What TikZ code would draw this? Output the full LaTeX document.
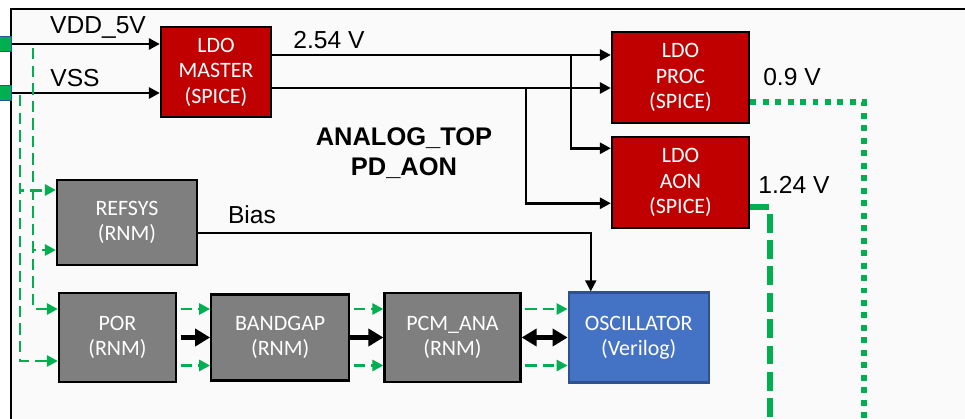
\documentclass[tikz,border=0pt]{standalone}
\usepackage{fontspec}
\setmainfont{Liberation Sans}
\newfontfamily\boxfont{Carlito}
\usepackage{tikz}
\usetikzlibrary{positioning,arrows.meta}
\definecolor{aored}{RGB}{192,0,0}
\definecolor{aogrey}{RGB}{127,127,127}
\definecolor{aoblue}{RGB}{68,114,196}
\definecolor{aoedge}{RGB}{47,82,143}
\definecolor{aogreen}{RGB}{0,176,80}
\definecolor{aopanel}{RGB}{250,250,250}
\tikzset{
  blk/.style={draw=black, line width=1.3pt, align=center, text=white,
              inner sep=0pt, font=\boxfont\fontsize{12.5}{14.5}\selectfont},
  ldo/.style={blk, fill=aored, minimum width=2.74cm, minimum height=1.82cm},
  rnm/.style={blk, fill=aogrey, minimum width=2.76cm, minimum height=1.72cm},
  vlg/.style={blk, fill=aoblue, draw=aoedge, minimum width=2.8cm, minimum height=1.8cm},
  port/.style={draw=aoedge, fill=aogreen, line width=0.8pt, minimum size=0.29cm, inner sep=0pt},
  lbl/.style={font=\fontsize{14}{17}\selectfont, inner sep=0pt},
  ttl/.style={lbl, font=\bfseries\fontsize{14.5}{17}\selectfont, align=center},
  sig/.style={-{Triangle[length=2.2mm, width=2.2mm]}, line width=1.6pt},
  bias/.style={-{Triangle[length=2.2mm, width=2.2mm]}, line width=1.1pt},
  bus/.style={-{Triangle[length=3mm, width=3.4mm]}, line width=2.8pt},
  bibus/.style={{Triangle[length=3mm, width=3.4mm]}-{Triangle[length=3mm, width=3.4mm]}, line width=2.8pt},
  ctl/.style={-{Triangle[length=2.2mm, width=2.2mm]}, line width=1.7pt, color=aogreen,
              dash pattern=on 6.5pt off 3.5pt},
  railproc/.style={line width=2.9pt, color=aogreen, dash pattern=on 3.4pt off 3.7pt},
  railaon/.style={line width=3.4pt, color=aogreen, dash pattern=on 10.7pt off 4.3pt},
}
\begin{document}
\begin{tikzpicture}[x=0.02cm, y=-0.02cm]
\useasboundingbox (0,0) rectangle (965,419);
\draw[line width=1.7pt, fill=aopanel] (11,9) rectangle (990,440);

\node[port] (pinvdd) at (4,44) {};
\node[port] (pinvss) at (4,93) {};

\node[ldo, minimum width=2.2cm, minimum height=1.8cm] (master) at (216,72) {LDO\\MASTER\\(SPICE)};
\node[ldo] (proc) at (680.5,77.5) {LDO\\PROC\\(SPICE)};
\node[ldo, below=0.24cm of proc] (aon) {LDO\\AON\\(SPICE)};

\node[rnm, minimum width=2.8cm, minimum height=1.7cm] (refsys) at (127,222.5) {REFSYS\\(RNM)};
\node[rnm, minimum width=2.34cm, minimum height=1.78cm] (por) at (117.5,337.5) {POR\\(RNM)};
\node[rnm, right=0.66cm of por] (bandgap) {BANDGAP\\(RNM)};
\node[rnm, minimum width=2.72cm, minimum height=1.78cm, right=0.66cm of bandgap] (pcm) {PCM\_ANA\\(RNM)};
\node[vlg, right=0.92cm of pcm] (osc) {OSCILLATOR\\(Verilog)};

\node[ttl] (title) at (404,153) {ANALOG\_TOP\\PD\_AON};
\node[lbl] (lvdd) at (98,27) {VDD\_5V};
\node[lbl] (lvss) at (75,78) {VSS};
\node[lbl] (lmain) at (329,40) {2.54 V};
\node[lbl] (lproc) at (792,77) {0.9 V};
\node[lbl] (laon) at (794,185) {1.24 V};
\node[lbl] (lbias) at (252,215) {Bias};

\draw[sig] (pinvdd.east) -- (pinvdd.east -| master.west);
\draw[sig] (pinvss.east) -- (pinvss.east -| master.west);

\coordinate (hi) at ([yshift=0.34cm]master.east);
\coordinate (lo) at ([yshift=-0.32cm]master.east);
\coordinate (tapa) at (571,55);
\coordinate (tapb) at (526,88);
\draw[sig] (hi) -- (hi -| proc.west);
\draw[sig] (lo) -- (lo -| proc.west);
\draw[sig] (tapa) |- ([yshift=0.69cm]aon.west);
\draw[sig] (tapb) |- ([yshift=-0.41cm]aon.west);

\coordinate (vcore) at (864,430);
\coordinate (vaon) at (770,430);
\draw[railproc] ([yshift=-0.49cm]proc.east) -| (vcore);
\draw[railaon] ([yshift=-0.49cm]aon.east) -| (vaon);

\draw[bias] ([yshift=-0.21cm]refsys.east) -| ([xshift=-0.96cm]osc.north);

\coordinate (vddtap) at (33,48);
\coordinate (vsstap) at (20,95);
\draw[ctl] (vsstap) |- ([yshift=0.65cm]refsys.west);
\draw[ctl] (vsstap) |- ([yshift=-0.47cm]por.west);
\draw[ctl] (vddtap) |- ([yshift=-0.55cm]refsys.west);
\draw[ctl] (vddtap) |- ([yshift=0.57cm]por.west);

\foreach \a/\b in {por/bandgap, bandgap/pcm, pcm/osc} {
  \path ([yshift=0.57cm]\a.east) coordinate (up);
  \path ([yshift=-0.56cm]\a.east) coordinate (dn);
  \draw[ctl, shorten <=2pt] (up) -- (up -| \b.west);
  \draw[ctl, shorten <=2pt] (dn) -- (dn -| \b.west);
}

\draw[bus, shorten <=2pt] (por.east) -- (por.east -| bandgap.west);
\draw[bus] (bandgap.east) -- (bandgap.east -| pcm.west);
\draw[bibus] (pcm.east) -- (pcm.east -| osc.west);
\end{tikzpicture}
\end{document}
